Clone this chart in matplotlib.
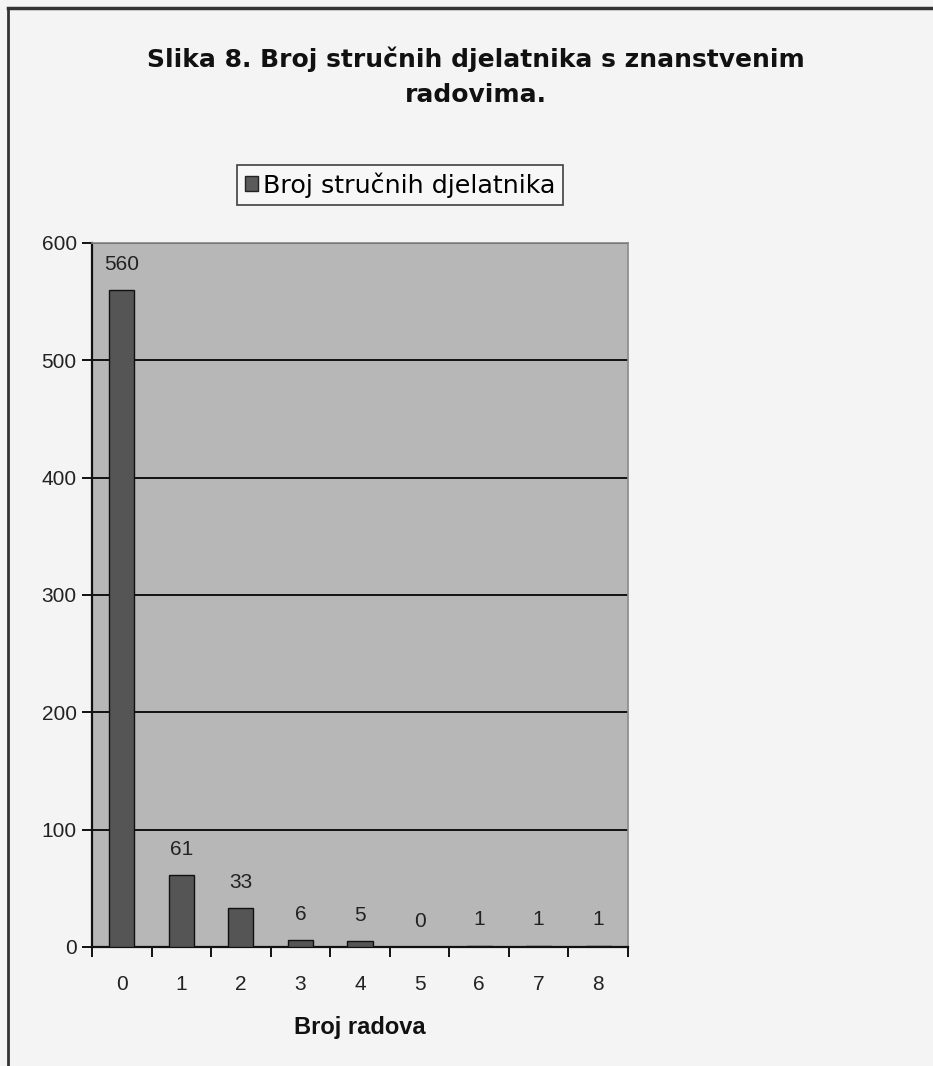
import matplotlib
matplotlib.use("Agg")
import matplotlib.pyplot as plt
from matplotlib.lines import Line2D
from matplotlib.patches import Patch

plt.rcParams['font.family'] = ['Liberation Sans', 'DejaVu Sans']

categories = ['0', '1', '2', '3', '4', '5', '6', '7', '8']
counts = [560, 61, 33, 6, 5, 0, 1, 1, 1]
series_name = 'Broj stručnih djelatnika'
title = 'Slika 8. Broj stručnih djelatnika s znanstvenim\nradovima.'
xlabel = 'Broj radova'
yticks = [0, 100, 200, 300, 400, 500, 600]

W, H = 933, 1066
fig = plt.figure(figsize=(W / 100, H / 100), dpi=100)
fig.patch.set_facecolor('#f4f4f4')

# chart frame (top and left border)
fig.add_artist(Line2D([8 / W, 1], [1 - 8 / H, 1 - 8 / H], color='#333333', lw=2.5, transform=fig.transFigure))
fig.add_artist(Line2D([8 / W, 8 / W], [0, 1 - 8 / H], color='#333333', lw=2.0, transform=fig.transFigure))

left, right, top, bottom = 92, 628, 243, 947
ax = fig.add_axes([left / W, 1 - bottom / H, (right - left) / W, (bottom - top) / H])
ax.set_facecolor('#b7b7b7')

x = list(range(len(categories)))
ax.bar(x, counts, width=0.42, color='#555555', edgecolor='#111111', linewidth=1.0, zorder=3)
for xi, v in zip(x, counts):
    ax.text(xi, v + 14, str(v), ha='center', va='bottom', fontsize=15, color='#222222', zorder=4)

ax.set_xlim(-0.5, len(categories) - 0.5)
ax.set_ylim(0, 600)
ax.set_yticks(yticks)
ax.set_yticklabels([str(t) for t in yticks], fontsize=15, color='#222222')
ax.yaxis.grid(True, color='#111111', linewidth=1.4, zorder=1)
ax.set_axisbelow(True)
ax.tick_params(axis='y', length=7, width=1.4, color='#111111', pad=4)

# category labels centred, tick marks at category boundaries
ax.set_xticks([i - 0.5 for i in range(len(categories) + 1)])
ax.set_xticklabels([''] * (len(categories) + 1))
ax.set_xticks(x, minor=True)
ax.set_xticklabels(categories, minor=True, fontsize=15, color='#222222')
ax.tick_params(axis='x', which='major', length=7, width=1.4, color='#111111', direction='out')
ax.tick_params(axis='x', which='minor', length=0, pad=20)

for s in ['left', 'bottom']:
    ax.spines[s].set_color('#111111')
    ax.spines[s].set_linewidth(1.6)
for s in ['top', 'right']:
    ax.spines[s].set_color('#8a8a8a')
    ax.spines[s].set_linewidth(1.2)

ax.set_xlabel(xlabel, fontsize=17, fontweight='bold', color='#111111', labelpad=16)

fig.text(476 / W, 1 - 77 / H, title, ha='center', va='center', fontsize=18,
         fontweight='bold', color='#111111', linespacing=1.6, family='DejaVu Sans')

leg = fig.legend(handles=[Patch(facecolor='#5a5a5a', edgecolor='#222222', label=series_name)],
                 loc='center', bbox_to_anchor=(400 / W, 1 - 185 / H),
                 prop={'family': 'DejaVu Sans', 'size': 18.3},
                 frameon=True, fancybox=False, handlelength=0.5, handleheight=0.5,
                 handletextpad=0.2, borderpad=0.3, borderaxespad=0)
leg.get_frame().set_edgecolor('#111111')
leg.get_frame().set_facecolor('#f8f8f8')
leg.get_frame().set_linewidth(1.2)

fig.savefig('out.png', dpi=100, facecolor=fig.get_facecolor())
